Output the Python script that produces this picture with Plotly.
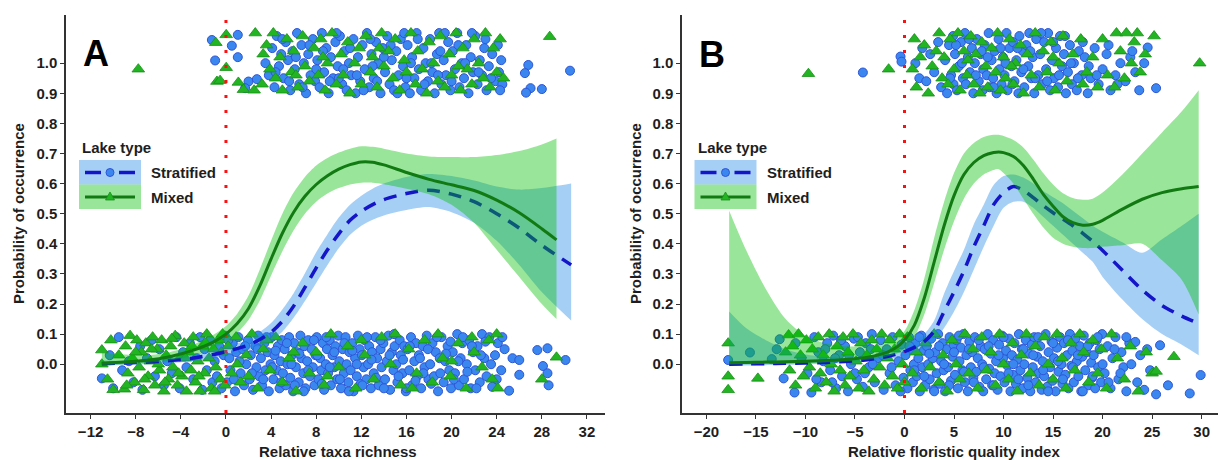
import plotly.graph_objects as go

W, H = 1218, 460
FONT = "Liberation Sans, Arial, sans-serif"

# ---------------- data ----------------
GROUPS = ["Stratified", "Mixed"]
Y_TICKS = [0.0, 0.1, 0.2, 0.3, 0.4, 0.5, 0.6, 0.7, 0.8, 0.9, 1.0]
Y_TICK_TEXT = ["0.0", "0.1", "0.2", "0.3", "0.4", "0.5", "0.6", "0.7", "0.8", "0.9", "1.0"]
A_X_TICKS = [-12, -8, -4, 0, 4, 8, 12, 16, 20, 24, 28, 32]
B_X_TICKS = [-20, -15, -10, -5, 0, 5, 10, 15, 20, 25, 30]
A_XLABEL = "Relative taxa richness"
B_XLABEL = "Relative floristic quality index"
YLABEL = "Probability of occurrence"
THRESHOLD_X = 0

# Panel A jittered observations (x, jittered presence/absence)
A_STRAT_BOTTOM = [
    (-11.0, -0.047), (-10.3, 0.03), (-10.0, -0.08), (-9.5, 0.09), (-9.2, -0.02), (-8.6, 0.01),
    (-8.2, -0.06), (-7.6, 0.06), (-7.4, -0.085), (-7.0, 0.02), (-6.6, 0.08), (-6.3, -0.04),
    (-5.9, 0.05), (-5.5, -0.07), (-5.2, 0.01), (-4.8, -0.03), (-4.4, 0.09), (-4.1, -0.08),
    (-3.8, 0.04), (-3.5, -0.01), (-3.2, 0.07), (-2.9, -0.05), (-2.6, 0.02), (-2.3, 0.09),
    (-2.1, -0.085), (-1.9, 0.05), (-1.7, -0.02), (-1.4, 0.08), (-1.2, -0.06), (-1.0, 0.01),
    (-0.8, -0.04), (-0.6, 0.06), (-0.4, -0.08), (-0.2, 0.03), (-0.1, 0.095),
    (0.1, -0.06), (0.3, 0.02), (0.4, -0.02), (0.6, 0.07), (0.8, -0.09), (0.9, 0.04),
    (1.1, 0.09), (1.3, -0.03), (1.5, 0.05), (1.6, -0.07), (1.8, 0.0), (1.95, 0.08),
    (2.1, -0.05), (2.2, 0.03), (2.4, -0.085), (2.6, 0.06), (2.7, -0.01), (2.85, 0.095), (2.95, -0.04),
    (3.1, 0.02), (3.2, -0.07), (3.4, 0.07), (3.5, -0.02), (3.7, 0.04), (3.8, -0.09), (3.95, 0.0),
    (4.05, 0.09), (4.2, -0.05), (4.3, 0.03), (4.5, -0.02), (4.6, 0.06), (4.75, -0.08), (4.85, 0.01), (4.95, 0.08),
    (5.05, -0.03), (5.2, 0.05), (5.3, -0.07), (5.45, 0.0), (5.6, 0.09), (5.7, -0.045), (5.85, 0.03), (5.95, -0.09),
    (6.05, 0.07), (6.2, -0.01), (6.3, 0.04), (6.45, -0.06), (6.6, 0.095), (6.7, 0.02), (6.85, -0.03), (6.95, 0.06),
    (7.05, -0.08), (7.2, 0.01), (7.3, 0.08), (7.45, -0.04), (7.6, 0.05), (7.7, -0.01), (7.85, -0.07), (7.95, 0.03),
    (8.05, 0.09), (8.2, -0.05), (8.35, 0.02), (8.45, -0.02), (8.6, 0.07), (8.7, -0.085), (8.85, 0.0), (8.95, 0.05),
    (9.05, -0.03), (9.2, 0.08), (9.3, -0.07), (9.45, 0.03), (9.6, -0.01), (9.7, 0.06), (9.85, -0.05), (9.95, 0.095),
    (10.05, 0.01), (10.2, -0.08), (10.35, 0.05), (10.45, -0.03), (10.6, 0.09), (10.7, 0.0), (10.85, -0.06), (10.95, 0.04),
    (11.05, -0.02), (11.2, 0.07), (11.3, -0.09), (11.45, 0.02), (11.6, -0.04), (11.7, 0.095), (11.85, 0.05), (11.95, -0.065),
    (12.05, 0.03), (12.2, -0.01), (12.3, 0.08), (12.45, -0.05), (12.6, 0.0), (12.7, 0.06), (12.85, -0.08), (12.95, 0.04),
    (13.1, -0.03), (13.25, 0.09), (13.4, 0.02), (13.55, -0.07), (13.7, 0.05), (13.8, -0.01), (13.95, 0.07),
    (14.1, -0.05), (14.25, 0.01), (14.4, 0.095), (14.55, -0.085), (14.7, 0.04), (14.85, -0.02), (14.95, 0.06),
    (15.1, 0.0), (15.2, -0.06), (15.4, 0.08), (15.5, 0.03), (15.65, -0.03), (15.8, 0.06), (15.95, -0.09),
    (16.1, 0.05), (16.25, -0.02), (16.4, 0.09), (16.5, -0.07), (16.7, 0.01), (16.85, 0.07), (16.95, -0.04),
    (17.1, 0.03), (17.3, -0.08), (17.45, 0.06), (17.6, -0.01), (17.8, 0.095), (17.95, -0.05),
    (18.1, 0.0), (18.3, 0.07), (18.45, -0.04), (18.6, 0.04), (18.8, -0.09), (18.95, 0.02),
    (19.1, 0.09), (19.3, -0.06), (19.45, 0.01), (19.65, 0.06), (19.8, -0.02), (19.95, -0.08),
    (20.1, 0.04), (20.3, -0.03), (20.5, 0.1), (20.65, -0.07), (20.8, 0.02), (20.95, 0.07),
    (21.1, -0.05), (21.35, 0.0), (21.55, 0.08), (21.7, -0.08), (21.9, 0.04),
    (22.1, -0.02), (22.3, 0.06), (22.5, -0.06), (22.7, 0.1), (22.9, 0.02),
    (23.1, -0.04), (23.35, 0.09), (23.6, -0.075), (23.85, 0.03),
    (24.1, 0.07), (24.4, -0.02), (24.7, 0.05), (25.1, -0.088), (25.4, 0.02),
    (26.0, 0.014), (26.0, -0.035), (27.6, 0.047), (28.1, -0.006), (28.5, 0.053), (28.5, -0.03),
    (28.6, -0.07), (30.1, 0.014),
    (0.2, 0.08), (0.7, -0.05), (1.2, 0.01), (1.7, 0.06), (2.3, -0.03), (2.8, 0.05), (3.3, -0.05),
    (3.6, 0.09), (4.1, -0.01), (4.4, 0.045), (4.9, -0.06), (5.4, 0.07), (5.8, 0.0), (6.1, -0.07),
    (6.5, 0.035), (6.9, -0.09), (7.3, -0.02), (7.8, 0.08), (8.1, 0.03), (8.5, -0.065), (8.9, 0.09),
    (9.2, -0.01), (9.6, 0.04), (10.1, -0.05), (10.5, 0.07), (10.9, -0.09), (11.2, 0.045), (11.6, 0.0),
    (12.1, -0.07), (12.5, 0.09), (12.9, 0.015), (13.3, -0.045), (13.7, 0.08), (14.0, -0.08), (14.5, 0.03),
    (14.9, 0.1), (15.3, -0.04), (15.7, 0.015), (16.0, -0.08), (16.3, 0.06), (16.8, -0.055), (17.2, 0.02),
    (17.5, -0.03), (17.9, 0.05), (18.2, -0.065), (18.7, 0.09), (19.0, -0.03), (19.5, 0.035), (19.9, 0.075),
    (20.2, -0.05), (20.6, 0.01), (21.0, 0.09), (21.4, -0.025), (21.8, 0.06), (22.2, -0.08), (22.6, 0.03),
    (23.0, 0.075), (23.5, 0.0), (24.0, -0.05), (24.5, 0.09),
]
A_MIXED_BOTTOM = [
    (-11.0, 0.047), (-11.0, 0.0), (-10.5, -0.05), (-10.0, -0.085), (-9.0, -0.083), (-8.9, 0.06),
    (-8.7, -0.03), (-8.5, 0.095), (-8.3, 0.02), (-8.1, -0.06), (-7.9, 0.08), (-7.7, -0.01),
    (-7.5, 0.04), (-7.3, -0.085), (-7.1, 0.07), (-6.9, -0.04), (-6.7, 0.01), (-6.5, 0.09),
    (-6.3, -0.07), (-6.1, 0.05), (-5.9, -0.02), (-5.7, 0.08), (-5.5, -0.09), (-5.3, 0.03),
    (-5.1, -0.05), (-4.9, 0.06), (-4.7, -0.01), (-4.5, 0.095), (-4.3, -0.07), (-4.1, 0.02),
    (-3.9, -0.04), (-3.7, 0.07), (-3.5, -0.09), (-3.3, 0.04), (-3.1, -0.02), (-2.9, 0.09),
    (-2.7, -0.06), (-2.5, 0.01), (-2.3, -0.09), (-2.1, 0.06), (-1.9, -0.03), (-1.7, 0.1),
    (-1.5, 0.02), (-1.3, -0.08), (-1.1, 0.05), (-0.9, -0.01), (-0.7, 0.08), (-0.5, -0.05),
    (-0.3, 0.1), (-0.1, -0.07), (0.2, 0.06), (0.5, -0.03), (0.9, 0.09), (1.3, -0.06),
    (1.8, 0.03), (2.3, 0.1), (2.8, -0.08), (3.3, 0.05), (3.9, -0.02), (4.4, 0.09), (5.0, -0.06),
    (5.6, 0.02), (6.2, -0.09), (6.8, 0.07), (7.4, -0.03), (8.0, 0.04), (8.7, -0.07), (9.3, 0.1),
    (10.0, -0.01), (10.8, 0.06), (11.5, -0.08), (12.3, 0.03), (13.1, -0.05), (13.8, 0.09),
    (14.6, 0.0), (15.0, 0.1), (15.5, -0.07), (16.2, 0.05), (16.9, -0.03), (17.6, 0.08),
    (18.3, -0.06), (18.8, 0.1), (19.2, 0.02), (19.9, -0.04), (20.6, 0.07), (21.3, -0.08),
    (22.0, 0.04), (22.7, -0.01), (23.3, 0.08), (23.6, -0.05), (24.0, 0.1), (24.1, -0.08),
    (29.3, 0.023), (28.0, -0.05),
    (-9.5, 0.03), (-8.8, -0.07), (-8.0, 0.04), (-7.2, -0.05), (-6.6, 0.05), (-6.0, 0.0),
    (-5.4, -0.06), (-4.8, 0.085), (-4.2, -0.03), (-3.6, 0.02), (-3.0, 0.06), (-2.4, -0.04),
    (-1.8, 0.07), (-1.0, -0.09), (-0.4, 0.04), (-10.2, 0.08), (1.0, 0.0), (2.0, -0.04),
    (3.6, 0.08), (6.0, 0.04), (9.0, -0.04), (12.0, 0.08), (16.5, -0.08), (20.0, 0.01), (21.8, 0.09),
]
A_STRAT_TOP = [
    (-1.25, 1.077), (0.52, 1.058), (1.05, 1.094), (1.05, 1.02), (-0.96, 1.009), (2.0, 0.939),
    (2.74, 0.947), (1.7, 0.917), (26.8, 0.994), (26.5, 0.967), (27.0, 0.917), (26.6, 0.902),
    (28.0, 0.914), (30.5, 0.975),
    (3.5, 1.0), (3.8, 0.96), (4.1, 1.05), (4.3, 0.92), (4.5, 1.09), (4.7, 0.99), (4.9, 1.03),
    (5.1, 0.95), (5.3, 1.07), (5.5, 1.01), (5.7, 0.91), (5.9, 1.04), (6.1, 0.98), (6.3, 1.1),
    (6.5, 0.93), (6.7, 1.06), (6.9, 1.0), (7.1, 0.9), (7.3, 1.03), (7.5, 0.96), (7.7, 1.08),
    (7.9, 0.94), (8.1, 1.01), (8.3, 0.92), (8.5, 1.1), (8.7, 0.97), (8.9, 1.05), (9.1, 0.9),
    (9.3, 1.02), (9.5, 0.95), (9.7, 1.07), (9.9, 0.99), (10.1, 1.09), (10.3, 0.93), (10.5, 1.04),
    (10.7, 0.91), (10.9, 1.0), (11.1, 0.96), (11.3, 1.08), (11.5, 0.9), (11.7, 1.02), (11.9, 0.94),
    (12.1, 1.06), (12.3, 0.98), (12.5, 1.1), (12.7, 0.92), (12.9, 1.03), (13.1, 0.95), (13.3, 1.07),
    (13.5, 1.0), (13.7, 0.9), (13.9, 1.05), (14.1, 0.97), (14.3, 1.09), (14.5, 0.93), (14.7, 1.01),
    (14.9, 0.91), (15.1, 1.04), (15.3, 0.96), (15.5, 1.08), (15.7, 0.99), (15.9, 0.92), (16.1, 1.06),
    (16.3, 0.9), (16.5, 1.02), (16.7, 0.95), (16.9, 1.1), (17.1, 0.98), (17.3, 0.91), (17.5, 1.05),
    (17.7, 1.0), (17.9, 0.94), (18.1, 1.08), (18.3, 0.97), (18.5, 0.9), (18.7, 1.03), (18.9, 1.1),
    (19.1, 0.93), (19.3, 1.01), (19.5, 0.96), (19.7, 1.07), (19.9, 0.91), (20.1, 1.04), (20.3, 0.98),
    (20.5, 1.1), (20.7, 0.92), (20.9, 1.0), (21.1, 0.95), (21.3, 1.06), (21.5, 0.9), (21.7, 1.02),
    (21.9, 0.97), (22.1, 1.09), (22.3, 0.93), (22.5, 1.01), (22.7, 0.96), (22.9, 1.05), (23.1, 0.91),
    (23.3, 0.99), (23.6, 1.03), (23.9, 0.94), (24.1, 1.06), (24.2, 0.97), (24.4, 1.01), (24.5, 0.93),
    (4.4, 0.97), (5.0, 1.08), (5.6, 0.94), (6.2, 1.02), (6.8, 0.92), (7.4, 1.06), (8.0, 0.98),
    (8.6, 1.04), (9.2, 0.94), (9.8, 1.1), (10.4, 0.98), (11.0, 1.05), (11.6, 0.96), (12.2, 0.91),
    (12.8, 1.08), (13.4, 0.94), (14.0, 1.02), (14.6, 1.06), (15.2, 0.9), (15.8, 1.1), (16.4, 1.0),
    (17.0, 1.08), (17.6, 0.93), (18.2, 1.0), (18.8, 0.96), (19.4, 1.1), (20.0, 0.94), (20.6, 1.06),
    (21.2, 1.0), (21.8, 1.1), (22.4, 0.97), (23.0, 1.08), (23.5, 0.95), (24.3, 0.91), (13.0, 0.99),
    (16.0, 0.95), (19.0, 1.04), (10.0, 0.95),
]
A_MIXED_TOP = [
    (-7.77, 0.98), (0.02, 1.094), (-0.9, 1.068), (0.02, 0.985), (-0.8, 0.939), (-0.52, 0.942),
    (1.1, 0.936), (1.55, 0.912), (2.5, 0.91), (2.6, 1.1), (3.3, 1.03), (28.7, 1.088),
    (3.2, 0.93), (3.6, 1.06), (3.9, 0.98), (4.2, 1.1), (4.4, 0.95), (4.8, 1.02), (5.0, 0.91),
    (5.4, 1.08), (5.8, 0.97), (6.0, 1.04), (6.4, 0.92), (6.8, 1.09), (7.0, 0.99), (7.4, 0.94),
    (7.8, 1.05), (8.2, 0.96), (8.4, 1.08), (8.8, 0.91), (9.0, 1.0), (9.4, 1.1), (9.8, 0.93),
    (10.2, 1.03), (10.4, 0.96), (10.8, 1.07), (11.0, 0.9), (11.4, 1.0), (11.8, 1.05), (12.0, 0.93),
    (12.4, 1.09), (12.8, 0.97), (13.0, 1.02), (13.4, 0.92), (13.8, 1.1), (14.0, 0.99), (14.4, 1.04),
    (14.8, 0.95), (15.0, 1.08), (15.4, 0.91), (15.8, 1.01), (16.0, 0.97), (16.4, 1.1), (16.8, 0.93),
    (17.0, 1.04), (17.4, 0.98), (17.8, 0.9), (18.0, 1.07), (18.4, 1.0), (18.8, 0.94), (19.0, 1.09),
    (19.4, 0.92), (19.8, 1.03), (20.0, 0.96), (20.4, 1.1), (20.8, 0.91), (21.0, 1.05), (21.4, 0.98),
    (21.8, 0.93), (22.0, 1.08), (22.4, 1.0), (22.8, 0.95), (23.0, 1.1), (23.4, 0.92), (23.7, 1.05),
    (24.0, 0.97), (24.3, 1.08), (24.6, 0.95), (20.6, 0.99), (13.6, 1.05), (8.6, 1.02), (6.2, 0.96),
]

# Panel B jittered observations
B_STRAT_BOTTOM = [
    (-17.8, 0.014), (-15.6, 0.039), (-13.4, 0.017), (-12.9, 0.05), (-12.6, 0.083), (-12.2, -0.047),
    (-11.1, -0.094), (-11.0, 0.07), (-10.4, 0.02), (-9.8, -0.03), (-9.4, -0.094), (-9.1, 0.09),
    (-8.7, 0.04), (-8.4, -0.06), (-8.2, 0.01), (-7.8, 0.07), (-7.5, -0.02), (-7.2, 0.095),
    (-6.9, -0.08), (-6.6, 0.03), (-6.3, -0.04), (-6.0, 0.06), (-5.7, -0.09), (-5.4, 0.0),
    (-5.1, 0.085), (-4.8, -0.05), (-4.5, 0.04), (-4.2, -0.075), (-3.9, 0.07), (-3.6, -0.01),
    (-3.3, 0.1), (-3.0, -0.06), (-2.7, 0.02), (-2.4, 0.08), (-2.1, -0.085), (-1.8, 0.05),
    (-1.5, -0.03), (-1.2, 0.09), (-0.9, -0.07), (-0.6, 0.01), (-0.3, 0.065), (-0.1, -0.045),
    (-5.0, -0.03), (-3.4, 0.05), (-7.0, 0.02),
    (0.1, 0.03), (0.3, -0.08), (0.45, 0.09), (0.6, -0.02), (0.75, 0.05), (0.85, -0.06), (0.95, 0.0),
    (1.1, 0.07), (1.25, -0.04), (1.4, 0.02), (1.55, -0.09), (1.7, 0.095), (1.8, -0.01), (1.95, 0.045),
    (2.1, -0.07), (2.25, 0.06), (2.4, 0.0), (2.55, -0.05), (2.7, 0.085), (2.85, 0.02), (2.95, -0.085),
    (3.1, 0.04), (3.25, -0.03), (3.4, 0.1), (3.55, -0.065), (3.7, 0.01), (3.85, 0.07), (3.95, -0.02),
    (4.1, -0.09), (4.25, 0.05), (4.4, -0.01), (4.55, 0.09), (4.7, -0.055), (4.85, 0.025), (4.95, 0.065),
    (5.1, -0.035), (5.25, 0.08), (5.4, -0.08), (5.55, 0.01), (5.7, 0.055), (5.85, -0.02), (5.95, 0.1),
    (6.1, -0.06), (6.25, 0.03), (6.4, -0.09), (6.55, 0.075), (6.7, -0.01), (6.85, 0.04), (6.95, -0.045),
    (7.1, 0.09), (7.25, -0.025), (7.4, 0.02), (7.55, -0.075), (7.7, 0.06), (7.85, 0.0), (7.95, -0.09),
    (8.1, 0.05), (8.25, -0.05), (8.4, 0.1), (8.55, -0.015), (8.7, 0.035), (8.85, -0.07), (8.95, 0.08),
    (9.1, -0.03), (9.25, 0.01), (9.4, -0.085), (9.55, 0.065), (9.7, -0.04), (9.85, 0.095), (9.95, 0.02),
    (10.1, -0.06), (10.25, 0.045), (10.4, -0.005), (10.55, 0.085), (10.7, -0.09), (10.85, 0.03), (10.95, -0.035),
    (11.1, 0.07), (11.25, -0.065), (11.4, 0.015), (11.55, 0.1), (11.7, -0.02), (11.85, 0.05), (11.95, -0.08),
    (12.1, 0.0), (12.25, 0.08), (12.4, -0.045), (12.55, 0.035), (12.7, -0.09), (12.85, 0.065), (12.95, -0.01),
    (13.1, 0.09), (13.25, -0.06), (13.4, 0.025), (13.55, -0.03), (13.7, 0.06), (13.85, -0.085), (13.95, 0.01),
    (14.1, -0.04), (14.25, 0.1), (14.4, -0.075), (14.55, 0.04), (14.7, -0.01), (14.85, 0.075), (14.95, -0.055),
    (15.1, 0.02), (15.25, -0.09), (15.4, 0.055), (15.55, -0.025), (15.7, 0.09), (15.85, 0.0), (15.95, -0.065),
    (16.1, 0.07), (16.25, -0.035), (16.4, 0.03), (16.55, -0.08), (16.7, 0.1), (16.85, -0.005), (16.95, 0.045),
    (17.1, -0.06), (17.25, 0.085), (17.4, 0.01), (17.55, -0.04), (17.7, 0.06), (17.85, -0.09), (17.95, 0.025),
    (18.1, 0.095), (18.25, -0.02), (18.4, 0.04), (18.55, -0.07), (18.7, 0.07), (18.85, 0.005), (18.95, -0.045),
    (19.1, 0.03), (19.25, -0.08), (19.4, 0.08), (19.55, -0.01), (19.7, 0.05), (19.85, -0.06), (19.95, 0.1),
    (20.2, -0.03), (20.5, 0.06), (20.8, -0.08), (21.0, 0.02), (21.3, 0.09), (21.6, -0.05), (21.9, 0.04),
    (22.1, -0.01), (22.4, -0.09), (22.7, 0.07), (22.9, 0.0), (23.3, 0.074), (23.5, -0.06), (23.8, 0.03),
    (24.2, -0.085), (24.5, 0.05), (24.8, -0.02), (25.8, 0.063), (25.4, -0.1), (26.6, -0.07),
    (28.8, -0.097), (29.9, -0.036),
    (-8.9, -0.05), (-8.0, 0.05), (-7.3, -0.06), (-6.4, 0.08), (-5.6, 0.03), (-4.7, 0.09), (-4.0, -0.03),
    (-3.2, 0.0), (-2.2, 0.03), (-1.3, -0.01), (-0.4, -0.09), (0.5, 0.06), (1.0, -0.02), (1.5, 0.09),
    (2.0, -0.04), (2.5, 0.035), (3.0, -0.09), (3.5, 0.06), (4.0, 0.0), (4.5, -0.07), (5.0, 0.04),
    (5.5, 0.095), (6.0, -0.025), (6.5, 0.05), (7.0, -0.06), (7.5, 0.08), (8.0, -0.01), (8.5, 0.06),
    (9.0, -0.07), (9.5, 0.03), (10.0, 0.09), (10.5, -0.03), (11.0, 0.0), (11.5, -0.05), (12.0, 0.05),
    (12.5, -0.07), (13.0, 0.03), (13.5, 0.09), (14.0, -0.02), (14.5, -0.09), (15.0, 0.07), (15.5, 0.01),
    (16.0, -0.05), (16.5, 0.08), (17.0, -0.01), (17.5, 0.03), (18.0, -0.09), (18.5, 0.06), (19.0, -0.04),
    (19.5, 0.09), (20.0, 0.0), (20.6, -0.06), (21.2, 0.05), (21.8, -0.03), (22.4, 0.09),
]
B_MIXED_BOTTOM = [
    (-17.8, 0.07), (-17.8, -0.04), (-17.8, -0.085), (-14.8, -0.047), (-11.7, 0.097), (-10.7, 0.1),
    (-12.0, 0.04), (-11.6, -0.02), (-11.3, 0.06), (-11.0, -0.07), (-10.5, 0.03), (-10.2, -0.04),
    (-9.9, 0.08), (-9.6, -0.01), (-9.3, 0.05), (-9.0, -0.08), (-8.7, 0.09), (-8.5, -0.03),
    (-8.2, 0.03), (-7.9, -0.06), (-7.6, 0.1), (-7.4, 0.0), (-7.1, -0.09), (-6.8, 0.06),
    (-6.5, -0.02), (-6.2, 0.09), (-6.0, -0.07), (-5.7, 0.04), (-5.5, -0.04), (-5.2, 0.1),
    (-4.9, 0.01), (-4.6, -0.08), (-4.4, 0.07), (-4.1, -0.02), (-3.8, 0.03), (-3.6, -0.09),
    (-3.3, 0.08), (-3.1, -0.05), (-2.8, 0.05), (-2.5, -0.01), (-2.3, 0.1), (-2.0, -0.07),
    (-1.7, 0.02), (-1.5, 0.08), (-1.2, -0.04), (-1.0, 0.05), (-0.7, -0.08), (-0.5, 0.1),
    (-0.2, 0.0), (0.0, -0.06),
    (0.3, 0.09), (0.8, -0.03), (1.2, 0.04), (1.7, -0.08), (2.1, 0.07), (2.6, -0.01), (3.0, 0.1),
    (3.5, -0.06), (3.9, 0.03), (4.3, -0.09), (4.8, 0.08), (5.2, 0.0), (5.6, -0.05), (6.1, 0.1),
    (6.5, -0.03), (6.9, 0.05), (7.4, -0.08), (7.8, 0.09), (8.3, -0.02), (8.7, 0.04), (9.2, -0.07),
    (9.6, 0.1), (10.0, 0.0), (10.5, -0.05), (10.9, 0.07), (11.4, -0.09), (11.8, 0.03), (12.3, 0.1),
    (12.7, -0.03), (13.2, 0.06), (13.6, -0.07), (14.1, 0.09), (14.5, 0.0), (15.0, -0.05), (15.4, 0.1),
    (15.9, 0.02), (16.3, -0.08), (16.8, 0.07), (17.2, -0.02), (17.7, 0.1), (18.1, 0.04), (18.6, -0.06),
    (19.0, 0.08), (19.5, -0.03), (19.9, 0.05), (20.4, -0.08), (20.9, 0.1), (21.5, 0.02), (22.2, -0.05),
    (22.8, 0.06), (23.6, -0.09), (24.4, 0.04), (25.0, -0.03), (25.4, -0.024), (27.2, 0.025),
]
B_STRAT_TOP = [
    (-4.2, 0.969), (-0.4, 1.022), (-0.3, 1.005),
    (1.1, 1.0), (1.5, 0.95), (1.8, 1.05), (2.2, 0.94), (2.6, 1.03), (3.0, 0.97), (3.4, 1.07), (3.7, 0.92),
    (4.1, 1.01), (4.3, 0.9), (4.5, 1.06), (4.7, 0.96), (4.9, 1.09), (4.95, 0.93),
    (5.1, 1.03), (5.3, 0.91), (5.5, 0.99), (5.7, 1.07), (5.9, 0.95),
    (6.1, 1.1), (6.2, 0.93), (6.4, 1.02), (6.6, 0.97), (6.8, 1.05), (6.95, 0.9),
    (7.1, 1.0), (7.3, 1.08), (7.5, 0.94), (7.7, 1.03), (7.9, 0.91), (7.95, 0.98),
    (8.1, 1.06), (8.3, 0.96), (8.5, 1.1), (8.6, 0.92), (8.8, 1.01), (8.95, 0.95),
    (9.1, 1.04), (9.3, 0.9), (9.5, 1.08), (9.6, 0.98), (9.8, 0.93), (9.95, 1.02),
    (10.1, 0.96), (10.3, 1.1), (10.4, 0.91), (10.6, 1.05), (10.8, 0.99), (10.95, 1.07),
    (11.1, 0.94), (11.3, 1.01), (11.5, 0.9), (11.6, 1.09), (11.8, 0.97), (11.95, 1.04),
    (12.1, 0.92), (12.3, 1.06), (12.5, 0.99), (12.6, 1.1), (12.8, 0.95), (12.95, 1.02),
    (13.1, 0.9), (13.3, 1.08), (13.5, 0.96), (13.7, 1.03), (13.9, 0.93),
    (14.1, 1.07), (14.3, 0.98), (14.5, 1.1), (14.7, 0.91), (14.9, 1.01),
    (15.1, 0.95), (15.3, 1.05), (15.5, 0.92), (15.7, 1.09), (15.9, 0.99),
    (16.1, 1.03), (16.3, 0.9), (16.5, 0.97), (16.7, 1.06), (16.9, 0.93),
    (17.1, 1.0), (17.4, 0.91), (17.6, 1.04), (17.9, 0.96), (18.2, 1.02), (18.5, 0.9), (18.8, 0.95),
    (19.2, 1.05), (19.6, 0.93), (20.0, 0.98), (20.4, 1.03), (20.8, 0.91), (21.3, 0.96), (21.8, 1.0),
    (22.3, 0.94), (22.8, 1.02), (23.3, 0.97), (23.7, 0.91), (24.2, 1.0), (24.55, 1.052), (25.4, 0.917),
    (4.6, 0.95), (5.2, 1.06), (5.8, 1.0), (6.5, 1.08), (7.2, 0.96), (7.8, 1.04), (8.4, 1.02),
    (9.0, 0.92), (9.7, 1.05), (10.2, 1.0), (10.9, 0.93), (11.4, 1.05), (12.0, 0.98), (12.7, 1.04),
    (13.2, 0.95), (13.8, 1.1), (14.4, 0.94), (15.0, 1.07), (15.6, 0.96), (16.2, 1.09), (16.8, 1.0),
    (17.5, 0.95), (18.0, 1.07), (18.6, 0.99), (19.4, 0.96), (20.6, 1.06), (21.5, 0.93), (23.0, 1.04),
]
B_MIXED_TOP = [
    (-9.7, 0.965), (-1.6, 0.98), (29.8, 1.0),
    (0.8, 0.98), (1.0, 1.08), (1.2, 0.92), (1.6, 1.02), (2.0, 1.06), (2.4, 0.9), (2.8, 0.99),
    (3.2, 1.04), (3.5, 1.1), (3.8, 0.95), (4.0, 1.02), (4.4, 0.93), (4.6, 1.08), (5.0, 0.98),
    (5.4, 1.1), (5.6, 0.91), (6.0, 1.04), (6.3, 0.96), (6.7, 1.09), (7.0, 0.93), (7.2, 1.03),
    (7.6, 0.9), (7.8, 1.07), (8.2, 0.99), (8.4, 0.92), (8.8, 1.05), (9.2, 0.97), (9.4, 1.1),
    (9.7, 0.91), (10.0, 1.02), (10.2, 0.95), (10.6, 1.08), (11.0, 0.93), (11.2, 1.0), (11.7, 1.06),
    (12.0, 0.9), (12.4, 1.03), (12.8, 0.96), (13.2, 1.1), (13.6, 0.92), (14.0, 1.04), (14.4, 0.97),
    (14.8, 1.07), (15.2, 0.91), (15.6, 1.0), (16.0, 1.09), (16.4, 0.94), (17.0, 1.03), (17.8, 1.08),
    (18.4, 0.97), (19.0, 1.02), (19.5, 0.92), (20.0, 1.08), (20.5, 0.96), (21.2, 0.92), (21.4, 1.1),
    (21.8, 1.04), (22.2, 0.95), (22.4, 1.1), (22.9, 1.0), (23.2, 1.07), (23.5, 1.1), (23.8, 0.97),
    (24.3, 1.03), (25.2, 1.09), (18.0, 0.93), (15.0, 1.02), (10.8, 0.99), (6.4, 1.01),
]

# Fitted smooths: x grid, fit, lower and upper CI
A_STRAT_X = [-11, -9, -7, -5, -3, -1, 0, 1, 2, 3, 4, 5, 6, 7, 8, 9, 10, 11, 12, 13, 14, 16, 18, 20, 22, 24, 26, 28, 30.6]
A_STRAT_FIT = [.002, .004, .007, .012, .02, .033, .042, .052, .064, .082, .106, .143, .193, .255, .32, .38, .433, .478, .508, .53, .547, .567, .578, .565, .54, .5, .452, .395, .33]
A_STRAT_LO = [-.004, -.002, .0, .004, .01, .02, .028, .036, .046, .06, .078, .108, .154, .21, .27, .33, .385, .43, .46, .48, .494, .512, .522, .505, .47, .41, .33, .24, .145]
A_STRAT_HI = [.012, .012, .015, .022, .032, .048, .058, .069, .084, .107, .137, .182, .236, .302, .372, .432, .487, .53, .56, .583, .6, .622, .632, .625, .61, .59, .58, .585, .6]

A_MIXED_X = [-11, -9, -7, -5, -3, -1, 0, 1, 2, 3, 4, 5, 6, 7, 8, 9, 10, 11, 12, 13, 14, 16, 18, 20, 22, 24, 26, 28, 29.3]
A_MIXED_FIT = [.003, .007, .013, .025, .045, .076, .1, .135, .185, .26, .35, .435, .505, .558, .597, .626, .648, .663, .672, .671, .662, .637, .614, .596, .577, .545, .503, .45, .413]
A_MIXED_LO = [-.003, .0, .004, .012, .028, .055, .076, .104, .147, .212, .295, .375, .445, .5, .54, .567, .585, .597, .603, .603, .598, .583, .565, .53, .47, .38, .29, .2, .15]
A_MIXED_HI = [.04, .032, .03, .04, .063, .1, .127, .168, .228, .315, .41, .5, .57, .622, .66, .685, .703, .716, .724, .722, .716, .7, .69, .688, .688, .695, .708, .73, .75]

B_STRAT_X = [-17.7, -16, -14, -12, -10, -8, -6, -4, -2, -1, 0, 1, 2, 3, 4, 5, 6, 7, 8, 9, 10, 11, 12, 13, 14, 15, 16, 17, 18, 19, 20, 22, 24, 26, 28, 29.7]
B_STRAT_FIT = [0.0, .001, .002, .003, .004, .006, .009, .014, .024, .032, .042, .056, .075, .11, .175, .24, .31, .39, .46, .53, .57, .59, .578, .553, .527, .503, .482, .46, .435, .408, .378, .312, .247, .195, .16, .135]
B_STRAT_LO = [-.005, -.004, -.003, -.002, 0.0, .002, .004, .008, .015, .021, .028, .038, .052, .075, .12, .175, .24, .315, .39, .46, .52, .54, .54, .52, .49, .46, .43, .4, .37, .34, .29, .215, .15, .1, .065, .03]
B_STRAT_HI = [.175, .12, .08, .05, .032, .025, .022, .024, .034, .044, .058, .075, .1, .145, .235, .31, .38, .465, .53, .595, .625, .63, .62, .6, .575, .555, .535, .51, .485, .46, .44, .405, .37, .415, .46, .5]

B_MIXED_X = [-17.7, -16, -14, -12, -10, -8, -6, -4, -2, -1, 0, 1, 2, 3, 4, 5, 6, 7, 8, 9, 9.5, 10, 11, 12, 13, 14, 15, 16, 17, 18, 19, 20, 22, 24, 26, 28, 29.7]
B_MIXED_FIT = [.005, .006, .007, .008, .01, .012, .016, .022, .037, .052, .08, .13, .22, .34, .46, .56, .63, .67, .693, .703, .705, .703, .69, .66, .615, .565, .525, .49, .47, .462, .465, .478, .515, .548, .57, .583, .59]
B_MIXED_LO = [.0, .0, .001, .002, .004, .006, .009, .014, .024, .033, .05, .09, .165, .27, .38, .475, .55, .6, .63, .645, .648, .635, .6, .55, .5, .455, .42, .4, .39, .386, .386, .39, .395, .4, .345, .28, .165]
B_MIXED_HI = [.51, .38, .25, .15, .095, .07, .06, .06, .068, .08, .11, .18, .285, .42, .54, .635, .7, .735, .755, .762, .762, .758, .745, .72, .68, .635, .597, .568, .552, .546, .55, .57, .63, .7, .77, .84, .91]

# ---------------- styles ----------------
BLUE_PT = "#3b87f0"
BLUE_PT_EDGE = "#2f55d6"
GREEN_PT = "#22b422"
GREEN_PT_EDGE = "#169016"
BLUE_LINE = "#1414c8"
GREEN_LINE = "#127a12"
BLUE_FILL = "rgba(30,135,230,0.4)"
GREEN_FILL = "rgba(0,190,0,0.4)"
TXT = "#1e1e1e"

fig = go.Figure()


def add_points(pts, xa, ya, kind):
    xs = [p[0] for p in pts]
    ys = [p[1] for p in pts]
    if kind == "Stratified":
        marker = dict(symbol="circle", size=9, color=BLUE_PT, line=dict(color=BLUE_PT_EDGE, width=1))
    else:
        marker = dict(symbol="triangle-up", size=11, color=GREEN_PT, line=dict(color=GREEN_PT_EDGE, width=0.8))
    fig.add_trace(go.Scatter(x=xs, y=ys, mode="markers", marker=marker, xaxis=xa, yaxis=ya,
                             showlegend=False, hoverinfo="skip", name=kind))


def add_smooth(xg, fit, lo, hi, xa, ya, kind):
    fill = BLUE_FILL if kind == "Stratified" else GREEN_FILL
    fig.add_trace(go.Scatter(x=xg, y=lo, mode="lines", line=dict(width=0, shape="spline", smoothing=0.8),
                             xaxis=xa, yaxis=ya, showlegend=False, hoverinfo="skip"))
    fig.add_trace(go.Scatter(x=xg, y=hi, mode="lines", line=dict(width=0, shape="spline", smoothing=0.8),
                             fill="tonexty", fillcolor=fill, xaxis=xa, yaxis=ya, showlegend=False,
                             hoverinfo="skip"))
    if kind == "Stratified":
        ln = dict(color=BLUE_LINE, width=3.5, dash="13px,9px", shape="spline", smoothing=0.8)
    else:
        ln = dict(color=GREEN_LINE, width=3, shape="spline", smoothing=0.8)
    fig.add_trace(go.Scatter(x=xg, y=fit, mode="lines", line=ln, xaxis=xa, yaxis=ya,
                             showlegend=False, hoverinfo="skip", name=kind))


def add_vline(xa, ya, yr):
    fig.add_trace(go.Scatter(x=[THRESHOLD_X, THRESHOLD_X], y=yr, mode="lines",
                             line=dict(color="#ff1010", width=3, dash="3px,12px"),
                             xaxis=xa, yaxis=ya, showlegend=False, hoverinfo="skip"))


Y_RANGE = [-0.162, 1.16]

# Panel A
add_points(A_STRAT_BOTTOM, "x", "y", "Stratified")
add_points(A_STRAT_TOP, "x", "y", "Stratified")
add_points(A_MIXED_BOTTOM, "x", "y", "Mixed")
add_points(A_MIXED_TOP, "x", "y", "Mixed")
add_vline("x", "y", Y_RANGE)
add_smooth(A_STRAT_X, A_STRAT_FIT, A_STRAT_LO, A_STRAT_HI, "x", "y", "Stratified")
add_smooth(A_MIXED_X, A_MIXED_FIT, A_MIXED_LO, A_MIXED_HI, "x", "y", "Mixed")

# Panel B
add_points(B_STRAT_BOTTOM, "x2", "y2", "Stratified")
add_points(B_STRAT_TOP, "x2", "y2", "Stratified")
add_points(B_MIXED_BOTTOM, "x2", "y2", "Mixed")
add_points(B_MIXED_TOP, "x2", "y2", "Mixed")
add_vline("x2", "y2", Y_RANGE)
add_smooth(B_STRAT_X, B_STRAT_FIT, B_STRAT_LO, B_STRAT_HI, "x2", "y2", "Stratified")
add_smooth(B_MIXED_X, B_MIXED_FIT, B_MIXED_LO, B_MIXED_HI, "x2", "y2", "Mixed")


def PX(x):
    return x / W


def PY(y):
    return 1 - y / H


tickfont = dict(family=FONT, size=15, color=TXT, weight="bold")
common_x = dict(showline=True, linecolor="#333333", linewidth=1.5, ticks="outside", ticklen=4,
                tickwidth=1.2, tickcolor="#333333", showgrid=False, zeroline=False, tickfont=tickfont)
common_y = dict(common_x, tickvals=Y_TICKS, ticktext=Y_TICK_TEXT, range=Y_RANGE,
                domain=[PY(413), PY(15)])

fig.update_layout(
    width=W, height=H, margin=dict(l=0, r=0, t=0, b=0),
    paper_bgcolor="white", plot_bgcolor="white", showlegend=False,
    font=dict(family=FONT, color=TXT),
    xaxis=dict(common_x, domain=[PX(66), PX(605)], range=[-14.18, 33.6], tickvals=A_X_TICKS, anchor="y"),
    yaxis=dict(common_y, anchor="x"),
    xaxis2=dict(common_x, domain=[PX(682), PX(1217.5)], range=[-22.46, 31.6], tickvals=B_X_TICKS, anchor="y2"),
    yaxis2=dict(common_y, anchor="x2"),
)

annotations = []
shapes = []


def text(x, y, s, size=15, angle=0, xanchor="center", weight="bold"):
    annotations.append(dict(x=PX(x), y=PY(y), xref="paper", yref="paper", text=s, showarrow=False,
                            xanchor=xanchor, yanchor="middle", textangle=angle,
                            font=dict(family=FONT, size=size, color=TXT if size < 30 else "black", weight=weight)))


for (lx, title, cx, ytx, letter, letx, lety) in [
    (80, A_XLABEL, 338, 18, "A", 96, 53),
    (695.5, B_XLABEL, 954, 635, "B", 712, 55),
]:
    text(cx, 451, title)
    text(ytx, 214, YLABEL, angle=-90)
    text(letx, lety, letter, size=36)
    # custom legend
    text(lx, 147, "Lake type", xanchor="left")
    text(lx + 69, 172, GROUPS[0], xanchor="left")
    text(lx + 69, 197, GROUPS[1], xanchor="left")
    bw = 62
    shapes.append(dict(type="rect", xref="paper", yref="paper", x0=PX(lx - 1), x1=PX(lx - 1 + bw),
                       y0=PY(184.5), y1=PY(160), fillcolor=BLUE_FILL, line=dict(width=0), layer="above"))
    shapes.append(dict(type="rect", xref="paper", yref="paper", x0=PX(lx - 1), x1=PX(lx - 1 + bw),
                       y0=PY(209), y1=PY(184.5), fillcolor=GREEN_FILL, line=dict(width=0), layer="above"))
    cxk = lx - 1 + bw / 2
    for (a, b) in [(cxk - 25, cxk - 9), (cxk + 9, cxk + 25)]:
        shapes.append(dict(type="line", xref="paper", yref="paper", x0=PX(a), x1=PX(b), y0=PY(172.5),
                           y1=PY(172.5), line=dict(color=BLUE_LINE, width=3.5), layer="above"))
    shapes.append(dict(type="circle", xref="paper", yref="paper", x0=PX(cxk - 4), x1=PX(cxk + 4),
                       y0=PY(176.5), y1=PY(168.5), fillcolor=BLUE_PT,
                       line=dict(color=BLUE_PT_EDGE, width=1), layer="above"))
    shapes.append(dict(type="line", xref="paper", yref="paper", x0=PX(cxk - 25), x1=PX(cxk + 25),
                       y0=PY(197), y1=PY(197), line=dict(color=GREEN_LINE, width=3), layer="above"))
    tri = "M {:.5f},{:.5f} L {:.5f},{:.5f} L {:.5f},{:.5f} Z".format(
        PX(cxk), PY(192), PX(cxk - 4.5), PY(200), PX(cxk + 4.5), PY(200))
    shapes.append(dict(type="path", xref="paper", yref="paper", path=tri, fillcolor=GREEN_PT,
                       line=dict(color=GREEN_PT_EDGE, width=0.8), layer="above"))

fig.update_layout(annotations=annotations, shapes=shapes)
fig.write_html("out.html")
